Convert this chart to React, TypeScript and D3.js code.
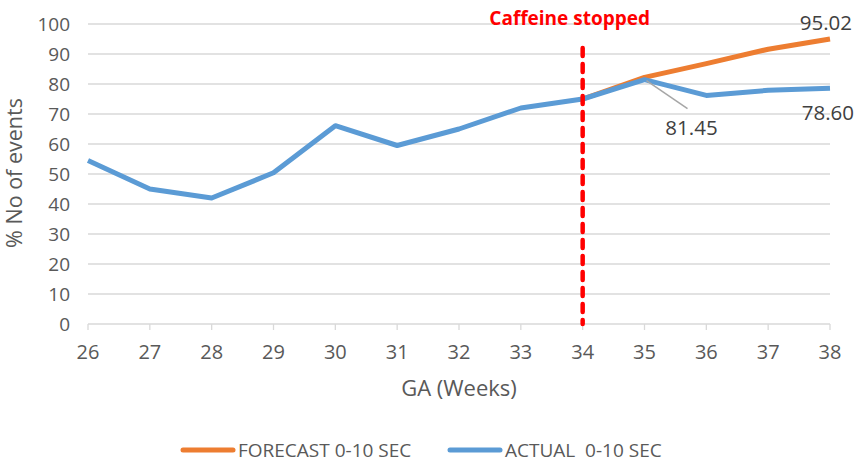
import { useEffect, useRef } from "react";
import * as d3 from "d3";

const weeks = [26, 27, 28, 29, 30, 31, 32, 33, 34, 35, 36, 37, 38];
const actual = [54.5, 45, 42, 50.4, 66.1, 59.5, 65, 72, 75, 81.45, 76.2, 77.9, 78.6];
const forecastWeeks = [34, 35, 36, 37, 38];
const forecast = [75, 82.2, 86.8, 91.6, 95.02];
const yTicks = [0, 10, 20, 30, 40, 50, 60, 70, 80, 90, 100];
const stopWeek = 34;

const W = 863;
const H = 465;
const FONT = "'Open Sans', 'DejaVu Sans', sans-serif";
const BLUE = "#5B9BD5";
const ORANGE = "#ED7D31";
const TEXT = "#595959";

const App = () => {
  const svgRef = useRef<SVGSVGElement | null>(null);

  useEffect(() => {
    if (!svgRef.current) return;
    const svg = d3.select(svgRef.current);
    svg.selectAll("*").remove();

    const x = d3.scaleLinear().domain([26, 38]).range([88, 830]);
    const y = d3.scaleLinear().domain([0, 100]).range([324, 24]);

    // gridlines
    svg
      .append("g")
      .selectAll("line")
      .data(yTicks.filter((t) => t > 0))
      .enter()
      .append("line")
      .attr("x1", x(26))
      .attr("x2", x(38))
      .attr("y1", (d) => y(d))
      .attr("y2", (d) => y(d))
      .attr("stroke", "#d9d9d9")
      .attr("stroke-width", 1.3);

    // y labels
    svg
      .append("g")
      .selectAll("text")
      .data(yTicks)
      .enter()
      .append("text")
      .attr("x", 70)
      .attr("y", (d) => y(d))
      .attr("dy", "0.35em")
      .attr("text-anchor", "end")
      .attr("font-family", FONT)
      .attr("font-size", 19)
      .attr("fill", TEXT)
      .text((d) => d);

    // x axis
    const xAxis = svg.append("g");
    xAxis
      .append("line")
      .attr("x1", x(26))
      .attr("x2", x(38))
      .attr("y1", y(0))
      .attr("y2", y(0))
      .attr("stroke", "#d9d9d9")
      .attr("stroke-width", 1.3);
    xAxis
      .selectAll("line.tick")
      .data(weeks)
      .enter()
      .append("line")
      .attr("class", "tick")
      .attr("x1", (d) => x(d))
      .attr("x2", (d) => x(d))
      .attr("y1", y(0))
      .attr("y2", y(0) + 6)
      .attr("stroke", "#d9d9d9")
      .attr("stroke-width", 1.3);
    xAxis
      .selectAll("text")
      .data(weeks)
      .enter()
      .append("text")
      .attr("x", (d) => x(d))
      .attr("y", 359)
      .attr("text-anchor", "middle")
      .attr("font-family", FONT)
      .attr("font-size", 20)
      .attr("fill", TEXT)
      .text((d) => d);

    // axis titles
    svg
      .append("text")
      .attr("x", 459)
      .attr("y", 396)
      .attr("text-anchor", "middle")
      .attr("font-family", FONT)
      .attr("font-size", 22)
      .attr("fill", TEXT)
      .text("GA (Weeks)");
    svg
      .append("text")
      .attr("transform", "translate(22,173) rotate(-90)")
      .attr("text-anchor", "middle")
      .attr("font-family", FONT)
      .attr("font-size", 21.5)
      .attr("fill", TEXT)
      .text("% No of events");

    // lines
    const line = d3
      .line<number>()
      .x((_, i) => x(forecastWeeks[i]))
      .y((d) => y(d));
    svg
      .append("path")
      .attr("d", line(forecast))
      .attr("fill", "none")
      .attr("stroke", ORANGE)
      .attr("stroke-width", 5)
      .attr("stroke-linejoin", "round");

    const actualLine = d3
      .line<number>()
      .x((_, i) => x(weeks[i]))
      .y((d) => y(d));
    svg
      .append("path")
      .attr("d", actualLine(actual))
      .attr("fill", "none")
      .attr("stroke", BLUE)
      .attr("stroke-width", 5)
      .attr("stroke-linejoin", "round");

    // caffeine stopped marker
    svg
      .append("line")
      .attr("x1", x(stopWeek))
      .attr("x2", x(stopWeek))
      .attr("y1", 48)
      .attr("y2", y(0))
      .attr("stroke", "#ff0000")
      .attr("stroke-width", 4.5)
      .attr("stroke-dasharray", "8 8")
      .attr("stroke-linecap", "round");
    svg
      .append("text")
      .attr("x", x(stopWeek) - 13)
      .attr("y", 25)
      .attr("text-anchor", "middle")
      .attr("font-family", FONT)
      .attr("font-size", 19)
      .attr("font-weight", "bold")
      .attr("fill", "#ff0000")
      .text("Caffeine stopped");

    // data labels
    const i35 = weeks.indexOf(35);
    svg
      .append("line")
      .attr("x1", x(35) + 2)
      .attr("y1", y(actual[i35]) + 1)
      .attr("x2", x(35) + 43)
      .attr("y2", y(actual[i35]) + 29)
      .attr("stroke", "#a6a6a6")
      .attr("stroke-width", 1.5);
    svg
      .append("text")
      .attr("x", x(35) + 47)
      .attr("y", y(actual[i35]) + 55)
      .attr("text-anchor", "middle")
      .attr("font-family", FONT)
      .attr("font-size", 20.5)
      .attr("fill", "#404040")
      .text(actual[i35].toFixed(2));
    svg
      .append("text")
      .attr("x", x(38) + 22)
      .attr("y", y(forecast[forecast.length - 1]) - 9)
      .attr("text-anchor", "end")
      .attr("font-family", FONT)
      .attr("font-size", 20.5)
      .attr("fill", "#404040")
      .text(forecast[forecast.length - 1].toFixed(2));
    svg
      .append("text")
      .attr("x", x(38) + 24)
      .attr("y", y(actual[actual.length - 1]) + 32)
      .attr("text-anchor", "end")
      .attr("font-family", FONT)
      .attr("font-size", 20.5)
      .attr("fill", "#404040")
      .text(actual[actual.length - 1].toFixed(2));

    // legend
    const legend = [
      { label: "FORECAST 0-10 SEC", color: ORANGE, x: 183 },
      { label: "ACTUAL  0-10 SEC", color: BLUE, x: 450 },
    ];
    const lg = svg
      .append("g")
      .selectAll("g")
      .data(legend)
      .enter()
      .append("g")
      .attr("transform", (d) => `translate(${d.x},450)`);
    lg.append("line")
      .attr("x1", 0)
      .attr("x2", 50)
      .attr("stroke", (d) => d.color)
      .attr("stroke-width", 5)
      .attr("stroke-linecap", "round");
    lg.append("text")
      .attr("x", 55)
      .attr("dy", "0.35em")
      .attr("font-family", FONT)
      .attr("font-size", 19)
      .attr("fill", TEXT)
      .style("white-space", "pre")
      .text((d) => d.label);
  }, []);

  return (
    <svg
      ref={svgRef}
      width={W}
      height={H}
      style={{ position: "absolute", left: 0, top: 0, background: "#fff" }}
    />
  );
};

export default App;
